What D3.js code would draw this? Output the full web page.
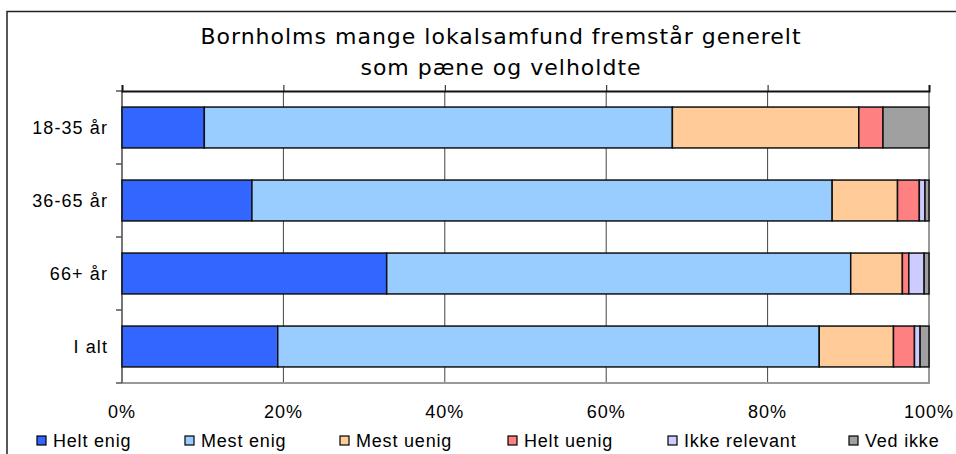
<!DOCTYPE html>
<html>
<head>
<meta charset="utf-8">
<script src="https://cdn.jsdelivr.net/npm/d3@7"></script>
<style>
  body { margin: 0; background: #fff; }
  text { font-family: "Liberation Sans", Arial, sans-serif; fill: #000; }
</style>
</head>
<body>
<div class="chart"></div>
<script>
// data (percent)
var categories = ["18-35 år", "36-65 år", "66+ år", "I alt"];
var seriesNames = ["Helt enig", "Mest enig", "Mest uenig", "Helt uenig", "Ikke relevant", "Ved ikke"];
var heltEnig     = [10.2, 16.1, 32.8, 19.3];
var mestEnig     = [58.0, 71.9, 57.5, 67.1];
var mestUenig    = [23.1,  8.1,  6.4,  9.2];
var heltUenig    = [ 3.0,  2.7,  0.8,  2.6];
var ikkeRelevant = [ 0.0,  0.7,  1.9,  0.7];
var vedIkke      = [ 5.7,  0.5,  0.6,  1.1];
var xTicks = [0, 20, 40, 60, 80, 100];
var titleLines = ["Bornholms mange lokalsamfund fremstår generelt", "som pæne og velholdte"];
var colors = ["#3366ff", "#99ccff", "#ffcc99", "#ff8080", "#ccccff", "#a0a0a0"];

var svgWidth = 956;
var svgHeight = 454;

var margin = { top: 91, right: 27, bottom: 71, left: 122 };
var width = svgWidth - margin.left - margin.right;
var height = svgHeight - margin.top - margin.bottom;

var svg = d3.select(".chart")
  .append("svg")
  .attr("width", svgWidth)
  .attr("height", svgHeight);

// outer chart frame
svg.append("rect")
  .attr("x", 7)
  .attr("y", 11.5)
  .attr("width", 980)
  .attr("height", 480)
  .attr("fill", "none")
  .attr("stroke", "#222")
  .attr("stroke-width", 1.5);

// title
svg.append("g").selectAll("text")
  .data(titleLines)
  .enter()
  .append("text")
  .attr("x", 501)
  .attr("y", (d, i) => 44 + i * 31)
  .attr("text-anchor", "middle")
  .style("font-family", "'DejaVu Sans', sans-serif")
  .style("font-size", "22px")
  .style("letter-spacing", "1px")
  .text(d => d);

var chartGroup = svg.append("g")
  .attr("transform", `translate(${margin.left}, ${margin.top})`);

var rows = categories.map(function (c, i) {
  return {
    cat: c,
    "Helt enig": heltEnig[i],
    "Mest enig": mestEnig[i],
    "Mest uenig": mestUenig[i],
    "Helt uenig": heltUenig[i],
    "Ikke relevant": ikkeRelevant[i],
    "Ved ikke": vedIkke[i]
  };
});

var xLinearScale = d3.scaleLinear().domain([0, 100]).range([0, width]);
var yBandScale = d3.scaleBand()
  .domain(categories)
  .range([0, height])
  .paddingInner(0.44)
  .paddingOuter(0.22);

// vertical gridlines
chartGroup.append("g").selectAll("line")
  .data(xTicks.slice(1, -1))
  .enter()
  .append("line")
  .attr("x1", d => xLinearScale(d))
  .attr("x2", d => xLinearScale(d))
  .attr("y1", 0)
  .attr("y2", height)
  .attr("stroke", "#444")
  .attr("stroke-width", 1);

// right + bottom plot border (grey)
chartGroup.append("path")
  .attr("d", `M${width},0V${height}H0`)
  .attr("fill", "none")
  .attr("stroke", "#999")
  .attr("stroke-width", 2);

// left axis line
chartGroup.append("line")
  .attr("x1", 0).attr("x2", 0)
  .attr("y1", 0).attr("y2", height)
  .attr("stroke", "#777")
  .attr("stroke-width", 2);

// category boundary ticks on the left
var boundaries = d3.range(categories.length + 1).map(i => i * height / categories.length);
chartGroup.append("g").selectAll("line")
  .data(boundaries)
  .enter()
  .append("line")
  .attr("x1", -6).attr("x2", 0)
  .attr("y1", d => d).attr("y2", d => d)
  .attr("stroke", "#555")
  .attr("stroke-width", 1.5);

// top axis with ticks pointing up
var topAxis = d3.axisTop(xLinearScale).tickValues(xTicks).tickSize(6).tickFormat("");
var xAxis = chartGroup.append("g").call(topAxis);
xAxis.select(".domain").attr("stroke", "#111").attr("stroke-width", 2);
xAxis.selectAll(".tick line").attr("stroke", "#111");

// stacked bars
var stack = d3.stack().keys(seriesNames);
var layers = stack(rows);

var layerGroups = chartGroup.selectAll(".layer")
  .data(layers)
  .enter()
  .append("g")
  .attr("class", "layer")
  .attr("fill", (d, i) => colors[i]);

layerGroups.selectAll("rect")
  .data(d => d)
  .enter()
  .append("rect")
  .attr("x", d => xLinearScale(d[0]))
  .attr("y", d => yBandScale(d.data.cat))
  .attr("width", d => xLinearScale(d[1]) - xLinearScale(d[0]))
  .attr("height", yBandScale.bandwidth())
  .attr("stroke", d => (d[1] - d[0]) > 0 ? "#111" : "none")
  .attr("stroke-width", 1.5);

// bottom percent labels
chartGroup.append("g").selectAll("text")
  .data(xTicks)
  .enter()
  .append("text")
  .attr("x", d => xLinearScale(d))
  .attr("y", height + 35)
  .attr("text-anchor", "middle")
  .style("font-size", "18px")
  .style("letter-spacing", "1px")
  .text(d => d + "%");

// category labels
chartGroup.append("g").selectAll("text")
  .data(categories)
  .enter()
  .append("text")
  .attr("x", -14)
  .attr("y", d => yBandScale(d) + yBandScale.bandwidth() / 2)
  .attr("dy", "0.35em")
  .attr("text-anchor", "end")
  .style("font-size", "18px")
  .style("letter-spacing", "1.1px")
  .text(d => d);

// legend
var legendX = [37, 185, 340, 508, 668, 849];
var legend = svg.append("g").selectAll("g")
  .data(seriesNames)
  .enter()
  .append("g")
  .attr("transform", (d, i) => `translate(${legendX[i]}, 436)`);

legend.append("rect")
  .attr("width", 9)
  .attr("height", 9)
  .attr("fill", (d, i) => colors[i])
  .attr("stroke", "#000")
  .attr("stroke-width", 1.2);

legend.append("text")
  .attr("x", 16)
  .attr("y", 11)
  .style("font-size", "18px")
  .style("letter-spacing", "0.8px")
  .text(d => d);
</script>
</body>
</html>
